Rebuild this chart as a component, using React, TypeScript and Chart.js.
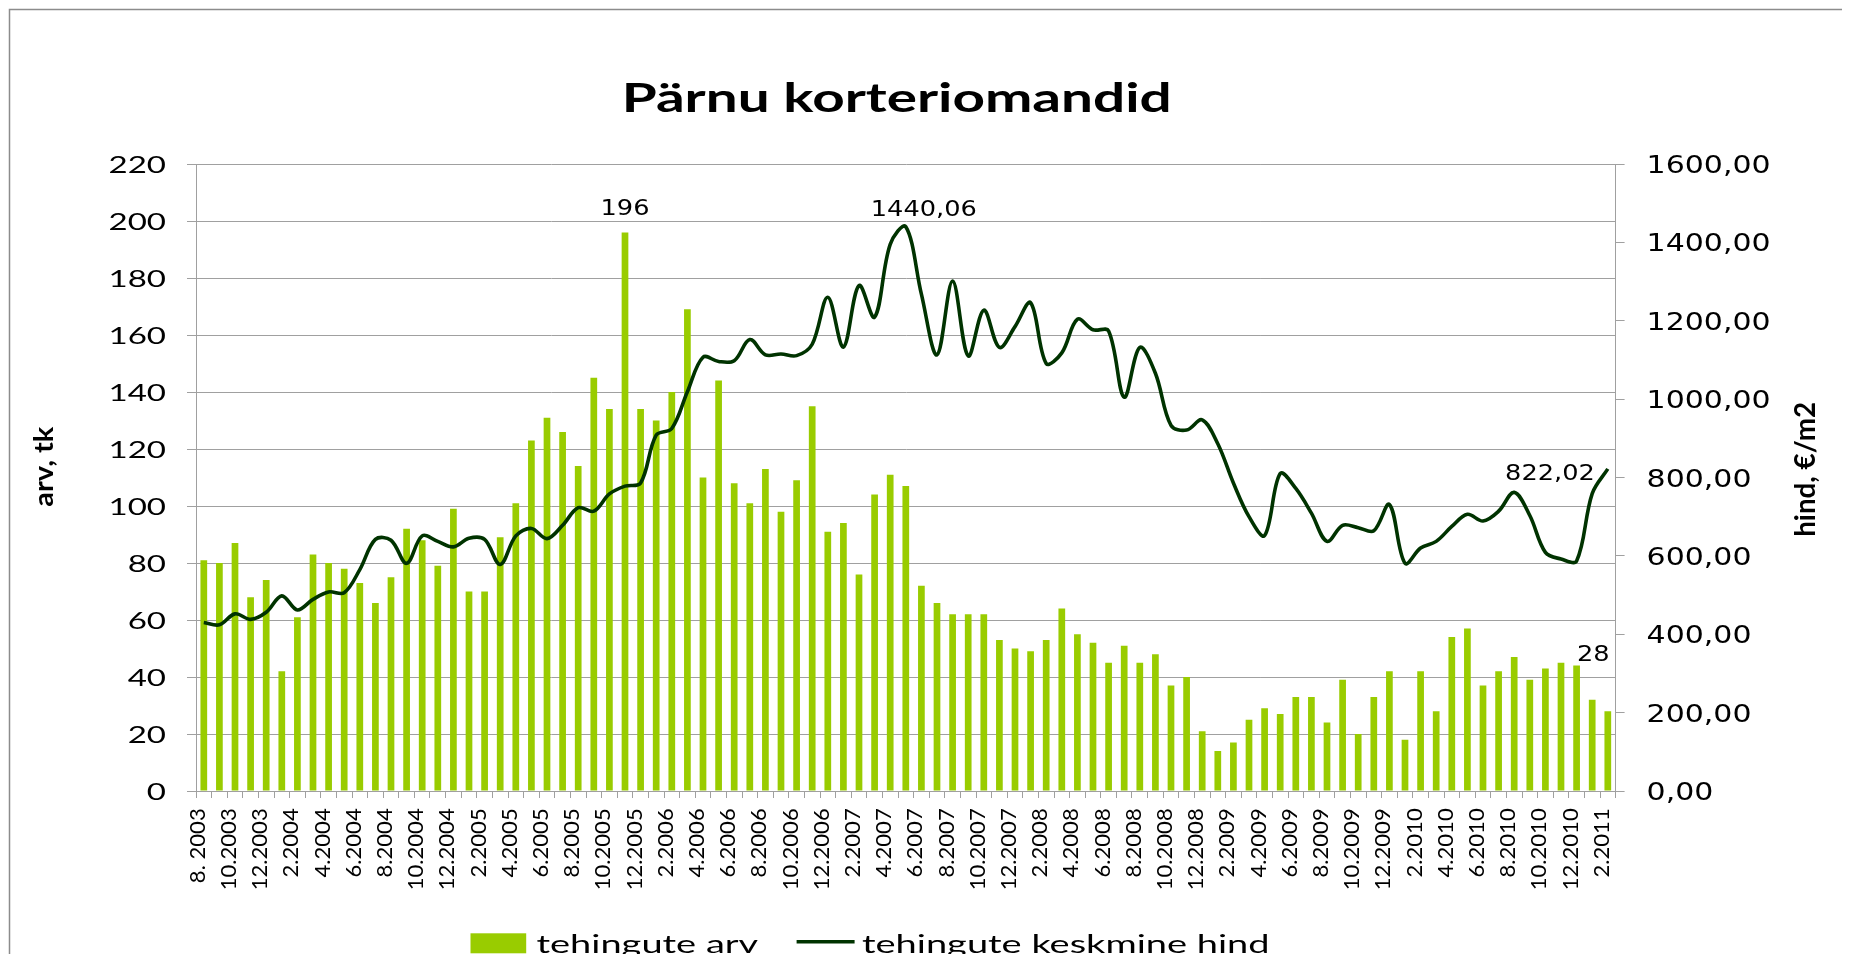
import React, { useEffect, useRef } from 'react';
import { Chart, registerables } from 'chart.js';

Chart.register(...registerables);

// ---------- data ----------
const MONTHS: string[] = [
  '8. 2003', '9.2003', '10.2003', '11.2003', '12.2003',
  '1.2004', '2.2004', '3.2004', '4.2004', '5.2004', '6.2004', '7.2004', '8.2004', '9.2004', '10.2004', '11.2004', '12.2004',
  '1.2005', '2.2005', '3.2005', '4.2005', '5.2005', '6.2005', '7.2005', '8.2005', '9.2005', '10.2005', '11.2005', '12.2005',
  '1.2006', '2.2006', '3.2006', '4.2006', '5.2006', '6.2006', '7.2006', '8.2006', '9.2006', '10.2006', '11.2006', '12.2006',
  '1.2007', '2.2007', '3.2007', '4.2007', '5.2007', '6.2007', '7.2007', '8.2007', '9.2007', '10.2007', '11.2007', '12.2007',
  '1.2008', '2.2008', '3.2008', '4.2008', '5.2008', '6.2008', '7.2008', '8.2008', '9.2008', '10.2008', '11.2008', '12.2008',
  '1.2009', '2.2009', '3.2009', '4.2009', '5.2009', '6.2009', '7.2009', '8.2009', '9.2009', '10.2009', '11.2009', '12.2009',
  '1.2010', '2.2010', '3.2010', '4.2010', '5.2010', '6.2010', '7.2010', '8.2010', '9.2010', '10.2010', '11.2010', '12.2010',
  '1.2011', '2.2011',
];

const COUNTS: number[] = [
  81, 80, 87, 68, 74, 42, 61, 83, 80, 78,
  73, 66, 75, 92, 88, 79, 99, 70, 70, 89,
  101, 123, 131, 126, 114, 145, 134, 196, 134, 130,
  140, 169, 110, 144, 108, 101,
  113, 98, 109, 135, 91, 94, 76, 104, 111, 107,
  72, 66, 62, 62, 62, 53, 50, 49, 53, 64,
  55, 52, 45, 51, 45, 48, 37, 40, 21,
  14, 17, 25, 29, 27, 33, 33, 24, 39, 20,
  33, 42, 18, 42, 28, 54, 57, 37, 42, 47,
  39, 43, 45, 44, 32, 28,
];

const PRICES: number[] = [
  430, 424, 452, 438, 456, 498, 462, 489, 508, 506,
  565, 642, 640, 581, 651, 637, 623, 645, 642, 578,
  651, 670, 644, 678, 723, 714, 758, 778, 786, 908,
  925, 1019, 1107, 1096, 1098, 1152,
  1113, 1115, 1111, 1140, 1260, 1133, 1290, 1209, 1395, 1440.06,
  1268, 1113, 1301, 1110, 1227, 1132, 1185, 1246, 1091, 1118,
  1204, 1177, 1174, 1005, 1132, 1066, 933, 921, 947,
  886, 786, 700, 652, 810, 772, 709, 637, 678, 672,
  664, 731, 581, 620, 637, 675, 706, 689, 714, 762,
  703, 609, 592, 587, 759, 822.02,
];

const LEFT_AXIS = { min: 0, max: 220, step: 20 };
const RIGHT_AXIS = { min: 0, max: 1600, step: 200 };

const TITLE = 'Pärnu korteriomandid';
const LEFT_TITLE = 'arv, tk';
const RIGHT_TITLE = 'hind, €/m2';
const BAR_LABEL = 'tehingute arv';
const LINE_LABEL = 'tehingute keskmine hind';

// ---------- styles ----------
const W = 1834;
const H = 954;
const BAR_COLOR = '#99cc00';
const LINE_COLOR = '#003300';
const GRID = '#a0a0a0';
const DV = '"DejaVu Sans"';

const fmtPrice = (v: number) => v.toFixed(2).replace('.', ',');

function measure(ctx: CanvasRenderingContext2D, font: string, text: string) {
  ctx.save();
  ctx.font = font;
  const w = ctx.measureText(text).width;
  ctx.restore();
  return w || 1;
}

function drawText(
  ctx: CanvasRenderingContext2D,
  text: string,
  font: string,
  x: number,
  y: number,
  sx: number,
  align: CanvasTextAlign,
  rot = 0
) {
  ctx.save();
  ctx.translate(x, y);
  if (rot) ctx.rotate(rot);
  ctx.scale(sx, 1);
  ctx.font = font;
  ctx.fillStyle = '#000';
  ctx.textAlign = align;
  ctx.textBaseline = 'alphabetic';
  ctx.fillText(text, 0, 0);
  ctx.restore();
}

const decorPlugin = {
  id: 'decor',
  beforeDraw(chart: any) {
    const ctx: CanvasRenderingContext2D = chart.ctx;
    ctx.save();
    ctx.fillStyle = '#fff';
    ctx.fillRect(0, 0, chart.width, chart.height);
    ctx.strokeStyle = '#8c8c8c';
    ctx.lineWidth = 1.5;
    ctx.strokeRect(1.5, 1.5, chart.width + 20, chart.height + 20);
    ctx.restore();
  },
  afterDraw(chart: any) {
    const ctx: CanvasRenderingContext2D = chart.ctx;
    const { chartArea, scales } = chart;
    const yL = scales.y;
    const yR = scales.y1;
    const xs = scales.x;

    // left tick labels
    const fL = '24px Lato';
    const sL = 57.5 / measure(ctx, fL, '220');
    yL.ticks.forEach((t: any) => {
      const py = yL.getPixelForValue(t.value);
      drawText(ctx, String(t.value), fL, chartArea.left - 30, py + 0.36 * 24, sL, 'right');
    });

    // right tick labels
    const fR = `25px ${DV}`;
    const sR = 124 / measure(ctx, fR, '1600,00');
    yR.ticks.forEach((t: any) => {
      const py = yR.getPixelForValue(t.value);
      drawText(ctx, fmtPrice(t.value), fR, chartArea.right + 31, py + 0.3645 * 25, sR, 'left');
    });

    // category labels (every second month), rotated
    const fX = '22px Lato';
    const sX = 82 / measure(ctx, fX, '10.2003');
    MONTHS.forEach((m, i) => {
      if (i % 2 !== 0) return;
      const px = xs.getPixelForValue(i);
      drawText(ctx, m, fX, px + 1, chartArea.bottom + 17.3, sX, 'right', -Math.PI / 2);
    });

    // title
    const fT = 'bold 40px Lato';
    drawText(ctx, TITLE, fT, 888.7, 103.7, 550 / measure(ctx, fT, TITLE), 'center');

    // axis titles
    const fA = 'bold 27.5px Lato';
    drawText(ctx, LEFT_TITLE, fA, 45.3, 458.7, 80 / measure(ctx, fA, LEFT_TITLE), 'center', -Math.PI / 2);
    const fA2 = 'bold 28px Lato';
    drawText(ctx, RIGHT_TITLE, fA2, 1807, 461.3, 135 / measure(ctx, fA2, RIGHT_TITLE), 'center', -Math.PI / 2);

    // data labels
    const fD = `21.5px ${DV}`;
    const sD = 106 / measure(ctx, fD, '1440,06');
    const half = 0.3645 * 21.5;
    const lineMeta = chart.getDatasetMeta(0);
    const barMeta = chart.getDatasetMeta(1);
    const maxC = COUNTS.indexOf(Math.max(...COUNTS));
    const maxP = PRICES.indexOf(Math.max(...PRICES));
    const lastI = COUNTS.length - 1;
    const b1 = barMeta.data[maxC];
    drawText(ctx, String(COUNTS[maxC]), fD, b1.x, b1.y - 25 + half, sD, 'center');
    const p1 = lineMeta.data[maxP];
    drawText(ctx, fmtPrice(PRICES[maxP]), fD, p1.x + 18, p1.y - 18.4 + half, sD, 'center');
    const p2 = lineMeta.data[lastI];
    drawText(ctx, fmtPrice(PRICES[lastI]), fD, p2.x - 13, p2.y + 3.3 + half, sD, 'right');
    const b2 = barMeta.data[lastI];
    drawText(ctx, String(COUNTS[lastI]), fD, b2.x - 14.5, b2.y - 57.7 + half, sD, 'center');

    // legend
    const ds = chart.data.datasets;
    const barDs = ds[1];
    const lineDs = ds[0];
    const fG = '25px Lato';
    const sG = 407.6 / measure(ctx, fG, lineDs.label);
    ctx.save();
    ctx.fillStyle = barDs.backgroundColor;
    ctx.fillRect(462.5, 925.3, 55.7, 20);
    ctx.strokeStyle = lineDs.borderColor;
    ctx.lineWidth = 3.5;
    ctx.beginPath();
    ctx.moveTo(788.6, 933.7);
    ctx.lineTo(846.6, 933.7);
    ctx.stroke();
    ctx.restore();
    drawText(ctx, barDs.label, fG, 528.5, 945.3, sG, 'left');
    drawText(ctx, lineDs.label, fG, 854, 945.3, sG, 'left');
  },
};

export default function App() {
  const ref = useRef<HTMLCanvasElement>(null);

  useEffect(() => {
    document.documentElement.style.overflow = 'hidden';
    document.body.style.overflow = 'hidden';
    const canvas = ref.current;
    if (!canvas) return;
    Chart.defaults.font.family = 'Lato';
    const chart = new Chart(canvas, {
      data: {
        labels: MONTHS,
        datasets: [
          {
            type: 'line',
            label: LINE_LABEL,
            data: PRICES,
            yAxisID: 'y1',
            borderColor: LINE_COLOR,
            backgroundColor: LINE_COLOR,
            borderWidth: 3.6,
            pointRadius: 0,
            tension: 0.35,
            fill: false,
            order: 0,
          } as any,
          {
            type: 'bar',
            label: BAR_LABEL,
            data: COUNTS,
            yAxisID: 'y',
            backgroundColor: BAR_COLOR,
            borderWidth: 0,
            barPercentage: 0.43,
            categoryPercentage: 1,
            order: 1,
          } as any,
        ],
      },
      options: {
        responsive: false,
        animation: false,
        events: [],
        layout: { padding: { top: 156, left: 0, right: 0, bottom: 0 } },
        plugins: {
          legend: { display: false },
          title: { display: false },
          tooltip: { enabled: false },
        },
        scales: {
          x: {
            type: 'category',
            offset: true,
            grid: {
              offset: true,
              drawOnChartArea: false,
              drawTicks: true,
              tickLength: 7,
              color: GRID,
            },
            border: { display: true, color: GRID },
            ticks: { autoSkip: false, display: false },
            afterFit: (s: any) => {
              s.height = H - 783;
            },
          },
          y: {
            position: 'left',
            min: LEFT_AXIS.min,
            max: LEFT_AXIS.max,
            ticks: { stepSize: LEFT_AXIS.step, display: false },
            grid: { color: GRID, tickLength: 9, drawTicks: true },
            border: { display: true, color: GRID },
            afterFit: (s: any) => {
              s.width = 188;
            },
          },
          y1: {
            position: 'right',
            min: RIGHT_AXIS.min,
            max: RIGHT_AXIS.max,
            ticks: { stepSize: RIGHT_AXIS.step, display: false },
            grid: { drawOnChartArea: false, tickLength: 9, drawTicks: true, color: GRID },
            border: { display: true, color: GRID },
            afterFit: (s: any) => {
              s.width = W - 1607.6;
            },
          },
        },
      } as any,
      plugins: [decorPlugin],
    });
    const fonts: any = (document as any).fonts;
    if (fonts && fonts.ready) {
      fonts.ready.then(() => {
        if ((chart as any).ctx) chart.draw();
      });
    }
    return () => chart.destroy();
  }, []);

  return (
    <div style={{ width: W, height: 946 }}>
      <canvas ref={ref} width={W} height={H} style={{ width: W, height: H, display: 'block' }} />
    </div>
  );
}
